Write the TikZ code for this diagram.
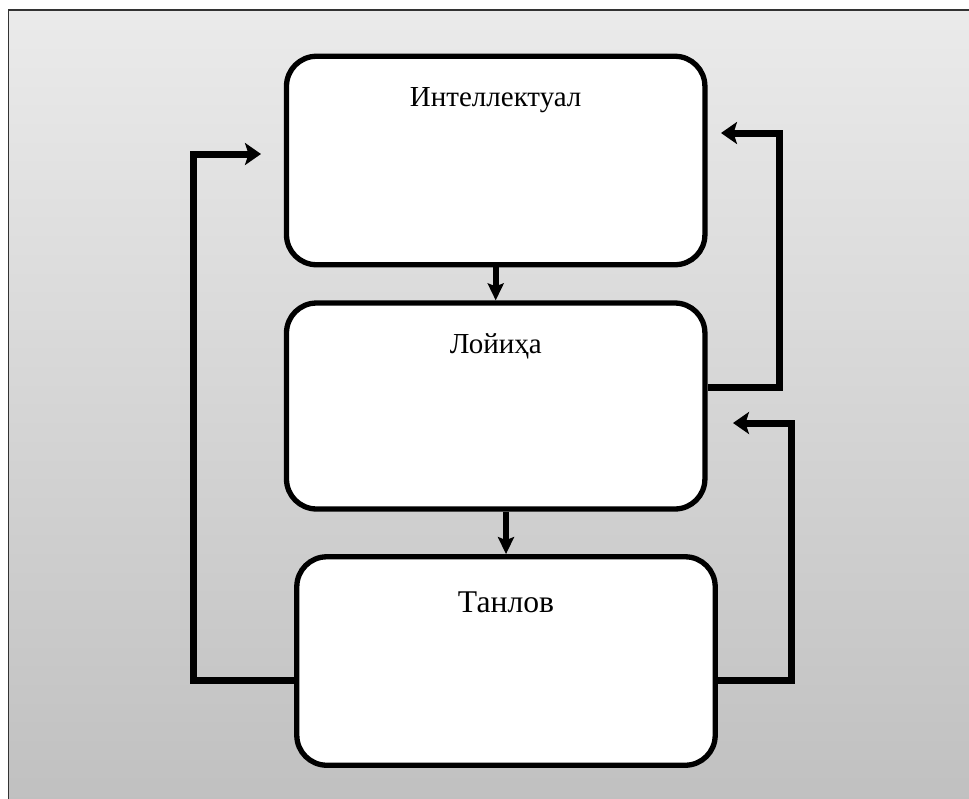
\documentclass[tikz,border=0pt]{standalone}
\usepackage{fontspec}
\setmainfont{Liberation Serif}
\usetikzlibrary{arrows.meta,positioning}
\tikzset{
  blok/.style={draw=black,fill=white,rounded corners=0.6cm,line width=0.106cm,minimum width=8.37cm,minimum height=4.17cm},
  matn/.style={font=\fontsize{16.5}{20}\selectfont,inner sep=0pt},
  strelka/.style={-{Stealth[length=0.34cm,width=0.32cm,inset=0.06cm]},line width=0.12cm,draw=black},
  halqa/.style={-{Stealth[length=0.32cm,width=0.44cm,inset=0.07cm]},line width=0.14cm,draw=black},
}
\begin{document}
\begin{tikzpicture}[x=0.02cm,y=-0.02cm]
  \useasboundingbox (0,0) rectangle (969,798);
  \clip (0,0) rectangle (969,798);
  % fon
  \shade[top color=black!8,bottom color=black!25,draw=black!80,line width=0.04cm] (8.5,9.5) rectangle (990,820);
  % bloklar
  \node[blok] (b1) at (495.7,160.5) {};
  \node[blok,minimum height=4.12cm] (b2) at (495.7,406) {};
  \node[blok] (b3) at (506,661) {};
  \node[matn] (t1) at ([yshift=-0.93cm]b1.north) {Интеллектуал};
  \node[matn] (t2) at ([yshift=-0.93cm]b2.north) {Лойиҳа};
  \node[matn,font=\fontsize{18}{22}\selectfont] (t3) at ([yshift=-0.96cm]b3.north) {Танлов};
  % uchlari
  \coordinate (k1) at (193,154);
  \coordinate (c1) at (261,154);
  \coordinate (k2) at (779,133);
  \coordinate (c2) at (721,133);
  \coordinate (k3) at (791,423);
  \coordinate (c3) at (733,423);
  \draw[strelka] (b1) -- (b2);
  \draw[strelka] (b2.south -| b3.north) -- (b3.north);
  \draw[halqa] ([yshift=-0.38cm]b3.west) -| (k1) -- (c1);
  \draw[halqa] ([yshift=0.38cm]b2.east) -| (k2) -- (c2);
  \draw[halqa] ([yshift=-0.38cm]b3.east) -| (k3) -- (c3);
\end{tikzpicture}
\end{document}
